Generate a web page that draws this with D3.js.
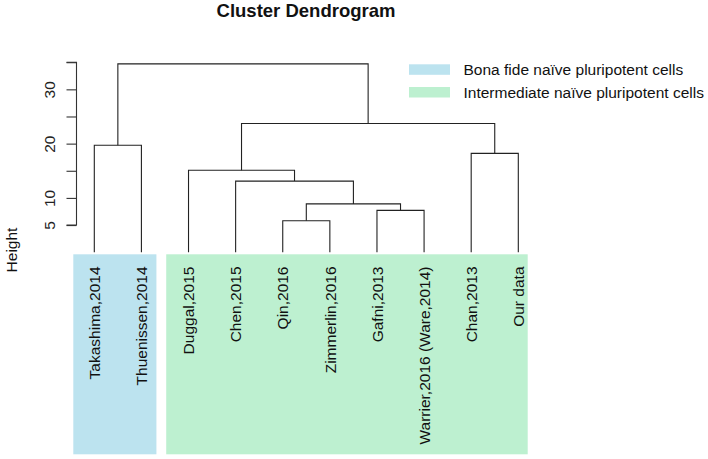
<!DOCTYPE html>
<html><head><meta charset="utf-8">
<script src="https://cdn.jsdelivr.net/npm/d3@7"></script>
<style>body{margin:0;background:#fff}svg{display:block}text{font-family:"Liberation Sans",Arial,Helvetica,sans-serif}</style>
</head><body>
<script>
const labels = ["Takashima,2014","Thuenissen,2014","Duggal,2015","Chen,2015","Qin,2016","Zimmerlin,2016","Gafni,2013","Warrier,2016 (Ware,2014)","Chan,2013","Our data"];
const groups = ["Bona fide","Bona fide","Intermediate","Intermediate","Intermediate","Intermediate","Intermediate","Intermediate","Intermediate","Intermediate"];
// hclust-style merges: negative = leaf (1-based), positive = earlier merge
const mergeLeft  = [-5, -7, 1, -4, -3, -9, -1, 5, 7];
const mergeRight = [-6, -8, 2,  3,  4, -10, -2, 6, 8];
const mergeHeight = [5.8, 7.7, 8.9, 13.1, 15.1, 18.2, 19.7, 23.7, 34.7];
const yTicks = [5, 10, 15, 20, 25, 30, 35];
const yTickLabels = [5, 10, 20, 30];
const legendNames = ["Bona fide naïve pluripotent cells", "Intermediate naïve pluripotent cells"];
const legendColors = ["#bce3ef", "#bdf0d0"];

const W = 708, H = 459;
const FS = 15.5;
const svg = d3.select("body").append("svg").attr("width", W).attr("height", H);

const x = d3.scalePoint().domain(labels).range([94.3, 518.3]);
const y = d3.scaleLinear().domain([0, 35]).range([252.2, 62.2]);
const color = d3.scaleOrdinal().domain(["Bona fide", "Intermediate"]).range(legendColors);

// build tree
function build(i) {
  if (i < 0) return { name: labels[-i - 1], height: 0 };
  const k = i - 1;
  return { height: mergeHeight[k], children: [build(mergeLeft[k]), build(mergeRight[k])] };
}
const root = d3.hierarchy(build(mergeHeight.length));
root.eachAfter(n => {
  if (!n.children) n.px = x(n.data.name);
  else n.px = (n.children[0].px + n.children[1].px) / 2;
  n.py = y(n.data.height);
});

// label background rects
const groupNames = Array.from(new Set(groups));
const padL = [21, 22.3], padR = [15, 9.4];
groupNames.forEach((gname, gi) => {
  const idx = labels.map((l, i) => i).filter(i => groups[i] === gname);
  const x0 = x(labels[idx[0]]) - padL[gi];
  const x1 = x(labels[idx[idx.length - 1]]) + padR[gi];
  svg.append("rect")
    .attr("x", x0).attr("width", x1 - x0)
    .attr("y", 254.3).attr("height", 200)
    .attr("fill", color(gname));
});

// dendrogram segments
const g = svg.append("g").attr("fill", "none").attr("stroke", "#222").attr("stroke-width", 1.1);
root.each(n => {
  if (n.children) {
    const [a, b] = n.children;
    g.append("path").attr("d",
      `M${a.px},${a.py}V${n.py}H${b.px}V${b.py}`);
  }
});

// leaf labels
labels.forEach(l => {
  svg.append("text")
    .attr("transform", `translate(${x(l) + 0.3},266.5) rotate(-90)`)
    .attr("text-anchor", "end").attr("dy", "0.35em")
    .attr("font-size", FS).attr("fill", "#111").text(l);
});

// y axis
const axis = d3.axisLeft(y).tickValues(yTicks).tickSize(10)
  .tickFormat(d => yTickLabels.includes(d) ? d : "");
const ax = svg.append("g").attr("transform", "translate(76.5,0)").call(axis);
ax.select(".domain").attr("d", `M-10,${y(35)}H0V${y(5)}H-10`).attr("stroke", "#333").attr("stroke-width", 1.1);
ax.selectAll(".tick line").attr("stroke", "#333").attr("stroke-width", 1.1);
ax.selectAll(".tick text")
  .each(function(d) {
    d3.select(this).attr("x", null).attr("dy", null)
      .attr("transform", `translate(-21.5,0) rotate(-90)`)
      .attr("text-anchor", "middle").attr("font-size", FS).attr("fill", "#222")
      .attr("font-family", "Liberation Sans, Arial, sans-serif");
  });

// axis title
svg.append("text").attr("transform", "translate(16.5,250) rotate(-90)")
  .attr("text-anchor", "middle").attr("font-size", FS).attr("fill", "#111").text("Height");

// title
svg.append("text").attr("x", 306).attr("y", 16.5).attr("text-anchor", "middle")
  .attr("font-size", 18.5).attr("font-weight", "bold").attr("fill", "#111").text("Cluster Dendrogram");

// legend
legendNames.forEach((name, i) => {
  svg.append("rect").attr("x", 409).attr("y", 64.3 + i * 22.7).attr("width", 41).attr("height", 10.5).attr("fill", legendColors[i]);
  svg.append("text").attr("x", 463.5).attr("y", 75 + i * 22.7).attr("font-size", FS).attr("fill", "#111").text(name);
});
</script>
</body></html>
